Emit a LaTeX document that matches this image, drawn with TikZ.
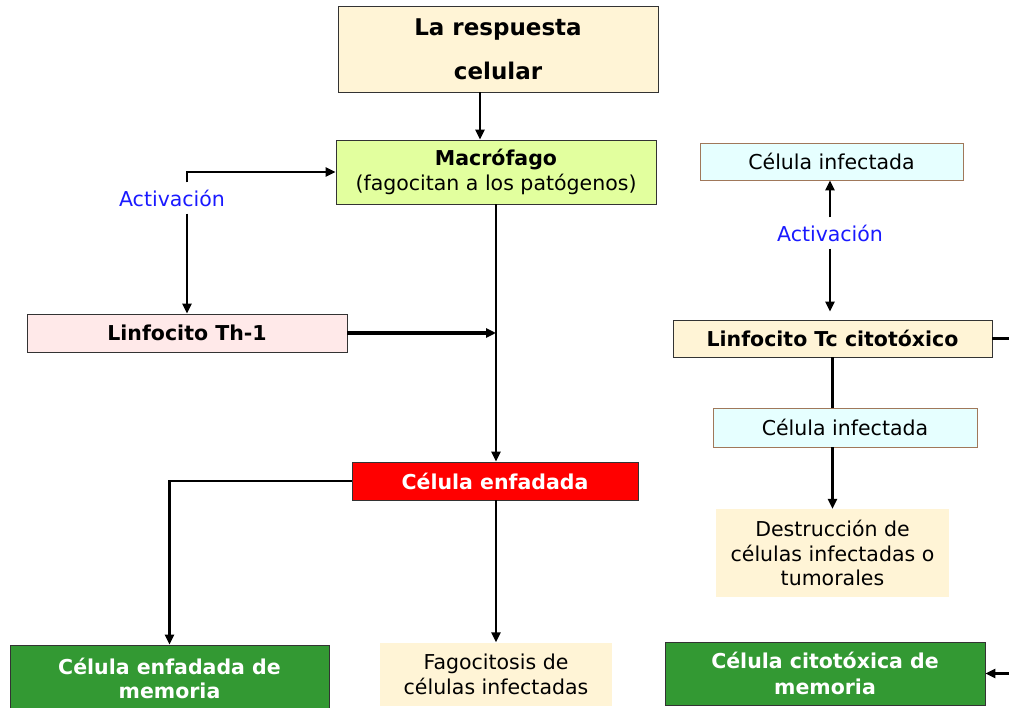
\documentclass[tikz,border=0pt]{standalone}
\usepackage{fontspec}
\setmainfont{DejaVu Sans}
\usetikzlibrary{arrows.meta}
\definecolor{crema}{HTML}{FFF4D6}
\definecolor{lima}{HTML}{E2FF9E}
\definecolor{rosa}{HTML}{FFE9E9}
\definecolor{celeste}{HTML}{E6FFFF}
\definecolor{verde}{HTML}{339933}
\definecolor{marron}{HTML}{A0785A}
\definecolor{azul}{HTML}{1A1AFF}

\begin{document}
\begin{tikzpicture}
[x=1pt, y=-1pt,
every node/.style = {align=center, inner sep=0pt, font=\fontsize{20.5}{25}\selectfont},
>={Triangle[length=10pt, width=9pt]}]
\tikzstyle{box} = [rectangle, draw=black!80, line width=0.9pt]
\tikzstyle{flecha} = [->, line width=2.3pt]
\tikzstyle{etiqueta} = [text=azul, inner ysep=7pt]

\useasboundingbox (0,0) rectangle (1009,708);
\clip (0,0) rectangle (1009,708);

% columna izquierda
\node[box, fill=crema, minimum width=320pt, minimum height=86pt,
  font=\fontsize{23}{44}\selectfont\bfseries] (resp) at (498,49) {La respuesta\\celular};
\node[box, fill=lima, minimum width=320pt, minimum height=64pt] (mac) at (496,172)
  {\textbf{Macrófago}\\(fagocitan a los patógenos)};
\node[etiqueta] (act1) at (172,198) {Activación};
\node[box, fill=rosa, minimum width=320pt, minimum height=38pt,
  font=\fontsize{20.5}{25}\selectfont\bfseries] (th) at (187,333) {Linfocito Th-1};
\node[box, fill=red, text=white, minimum width=286pt, minimum height=38pt,
  font=\fontsize{20.5}{25}\selectfont\bfseries] (enf) at (495,481) {Célula enfadada};
\node[box, fill=verde, text=white, minimum width=319pt, minimum height=66pt,
  font=\fontsize{20.5}{24}\selectfont\bfseries] (mem1) at (169.5,678) {Célula enfadada de\\memoria};
\node[fill=crema, minimum width=232pt, minimum height=63pt] (fago) at (496,674)
  {Fagocitosis de\\células infectadas};

% columna derecha
\node[box, fill=celeste, draw=marron, minimum width=263pt, minimum height=37pt] (inf1) at (831.5,161.5)
  {Célula infectada};
\node[etiqueta] (act2) at (830,233) {Activación};
\node[box, fill=crema, minimum width=319pt, minimum height=37pt,
  font=\fontsize{20.5}{25}\selectfont\bfseries] (tc) at (832.5,338.5) {Linfocito Tc citotóxico};
\node[box, fill=celeste, draw=marron, minimum width=264pt, minimum height=39pt] (inf2) at (845,427.5)
  {Célula infectada};
\node[fill=crema, minimum width=233pt, minimum height=88pt,
  font=\fontsize{20.5}{24.5}\selectfont] (des) at (832.5,553)
  {Destrucción de\\células infectadas o\\tumorales};
\node[box, fill=verde, text=white, minimum width=320pt, minimum height=63pt,
  font=\fontsize{20.5}{26}\selectfont\bfseries] (mem2) at (825,673.5) {Célula citotóxica de\\memoria};

% conexiones
\draw[flecha] (resp.south -| 480,0) -- (mac.north -| 480,0);
\draw[flecha] (act1.north -| th.north) |- (mac.west);
\draw[flecha] (act1.south -| th.north) -- (th.north);
\draw[->, line width=4.5pt] (th.east) -- (th.east -| mac.south);
\draw[flecha] (mac.south) -- (mac.south |- enf.north);
\draw[flecha] (enf.west) -| (mem1.north);
\draw[flecha] (enf.south -| mac.south) -- (fago.north);

\draw[flecha] (act2.north) -- (act2.north |- inf1.south);
\draw[flecha, shorten >=8pt] (act2.south) -- (tc.north -| act2.south);
\draw[line width=2.3pt] (tc.south) -- (tc.south |- inf2.north);
\draw[flecha] (inf2.south -| tc.south) -- (des.north);
\draw[flecha] (tc.east) -- ++(30,0) |- (mem2.east);

\end{tikzpicture}
\end{document}
